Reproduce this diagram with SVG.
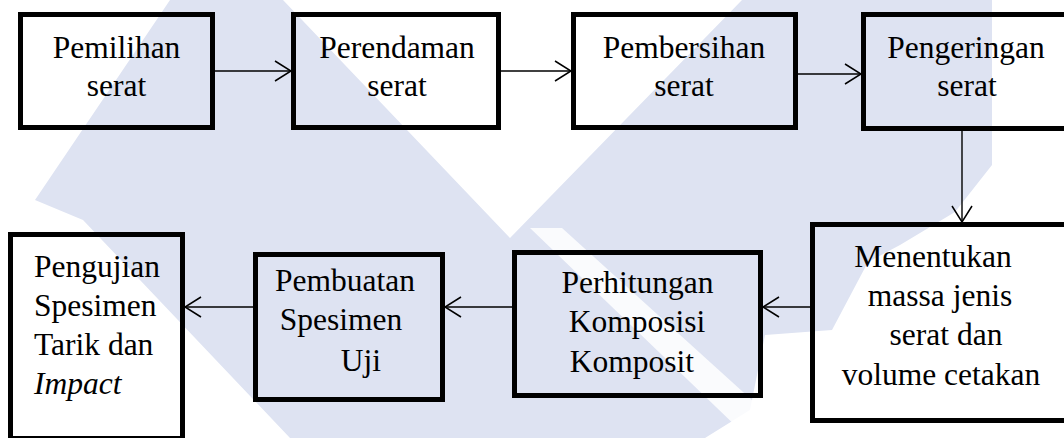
<svg xmlns="http://www.w3.org/2000/svg" width="1064" height="438" viewBox="0 0 1064 438">
<defs>
<style>
.box{fill:none;stroke:#000;stroke-width:5}
.conn{stroke:#000;stroke-width:1.4;fill:none;marker-end:url(#arr)}
.wm{fill:#dee3f2}
</style>
<marker id="arr" viewBox="0 0 18 22" refX="17" refY="11" markerWidth="18" markerHeight="22" markerUnits="userSpaceOnUse" orient="auto">
<path d="M1,1 L17,11 L1,21" fill="none" stroke="#000" stroke-width="1.5"/>
</marker>
</defs>
<rect width="1064" height="438" fill="#fff"/>
<g id="watermark">
<path class="wm" d="M170,0 L283,0 L510,238 L742,0 L992,0 L992,165 L955,212 L900,245 L868,262 L832,330 L765,335 L750,410 L705,438 L290,438 L83,220 L35,200 Z"/>
<path fill="#fff" opacity="0.85" d="M530,228 L562,228 L765,412 L742,432 Z"/>
</g>
<g id="connectors">
<line class="conn" x1="215" y1="71" x2="291" y2="71"/>
<line class="conn" x1="501" y1="71" x2="571" y2="71"/>
<line class="conn" x1="798" y1="74" x2="861" y2="74"/>
<line class="conn" x1="962" y1="131" x2="962" y2="222"/>
<line class="conn" x1="810" y1="307" x2="763" y2="307"/>
<line class="conn" x1="512" y1="307" x2="445" y2="307"/>
<line class="conn" x1="253" y1="307" x2="185" y2="307"/>
</g>
<g id="n1">
<rect class="box" x="20.5" y="14.5" width="192" height="113"/>
<text font-family="Liberation Serif" font-size="31.5" text-anchor="middle" x="116.5" y="58">Pemilihan</text>
<text font-family="Liberation Serif" font-size="31.5" text-anchor="middle" x="116.5" y="96">serat</text>
</g>
<g id="n2">
<rect class="box" x="293.5" y="14.5" width="205" height="113"/>
<text font-family="Liberation Serif" font-size="31.5" text-anchor="middle" x="397" y="58">Perendaman</text>
<text font-family="Liberation Serif" font-size="31.5" text-anchor="middle" x="397" y="96">serat</text>
</g>
<g id="n3">
<rect class="box" x="573.5" y="14.5" width="222" height="113"/>
<text font-family="Liberation Serif" font-size="31.5" text-anchor="middle" x="684" y="58">Pembersihan</text>
<text font-family="Liberation Serif" font-size="31.5" text-anchor="middle" x="684" y="96">serat</text>
</g>
<g id="n4">
<rect class="box" x="863.5" y="14.5" width="205" height="114"/>
<text font-family="Liberation Serif" font-size="31.5" text-anchor="middle" x="966" y="58">Pengeringan</text>
<text font-family="Liberation Serif" font-size="31.5" text-anchor="middle" x="967" y="96">serat</text>
</g>
<g id="n5">
<rect class="box" x="812.5" y="224.5" width="256" height="196"/>
<text font-family="Liberation Serif" font-size="31.5" text-anchor="middle" x="933" y="267">Menentukan</text>
<text font-family="Liberation Serif" font-size="31.5" text-anchor="middle" x="940" y="306">massa jenis</text>
<text font-family="Liberation Serif" font-size="31.5" text-anchor="middle" x="946" y="345">serat dan</text>
<text font-family="Liberation Serif" font-size="31.5" text-anchor="middle" x="941" y="385">volume cetakan</text>
</g>
<g id="n6">
<rect class="box" x="514.5" y="252.5" width="246" height="143"/>
<text font-family="Liberation Serif" font-size="31.5" text-anchor="middle" x="637.5" y="293">Perhitungan</text>
<text font-family="Liberation Serif" font-size="31.5" text-anchor="middle" x="637" y="332">Komposisi</text>
<text font-family="Liberation Serif" font-size="31.5" text-anchor="middle" x="632" y="372">Komposit</text>
</g>
<g id="n7">
<rect class="box" x="255.5" y="254.5" width="187" height="145"/>
<text font-family="Liberation Serif" font-size="31.5" text-anchor="middle" x="345" y="291">Pembuatan</text>
<text font-family="Liberation Serif" font-size="31.5" text-anchor="middle" x="341" y="330">Spesimen</text>
<text font-family="Liberation Serif" font-size="31.5" text-anchor="middle" x="361" y="371">Uji</text>
</g>
<g id="n8">
<rect class="box" x="10.5" y="234.5" width="172" height="204"/>
<text font-family="Liberation Serif" font-size="31.5" x="34" y="277">Pengujian</text>
<text font-family="Liberation Serif" font-size="31.5" x="34" y="316">Spesimen</text>
<text font-family="Liberation Serif" font-size="31.5" x="34" y="355">Tarik dan</text>
<text font-family="Liberation Serif" font-size="31.5" font-style="italic" x="34" y="394">Impact</text>
</g>
</svg>
